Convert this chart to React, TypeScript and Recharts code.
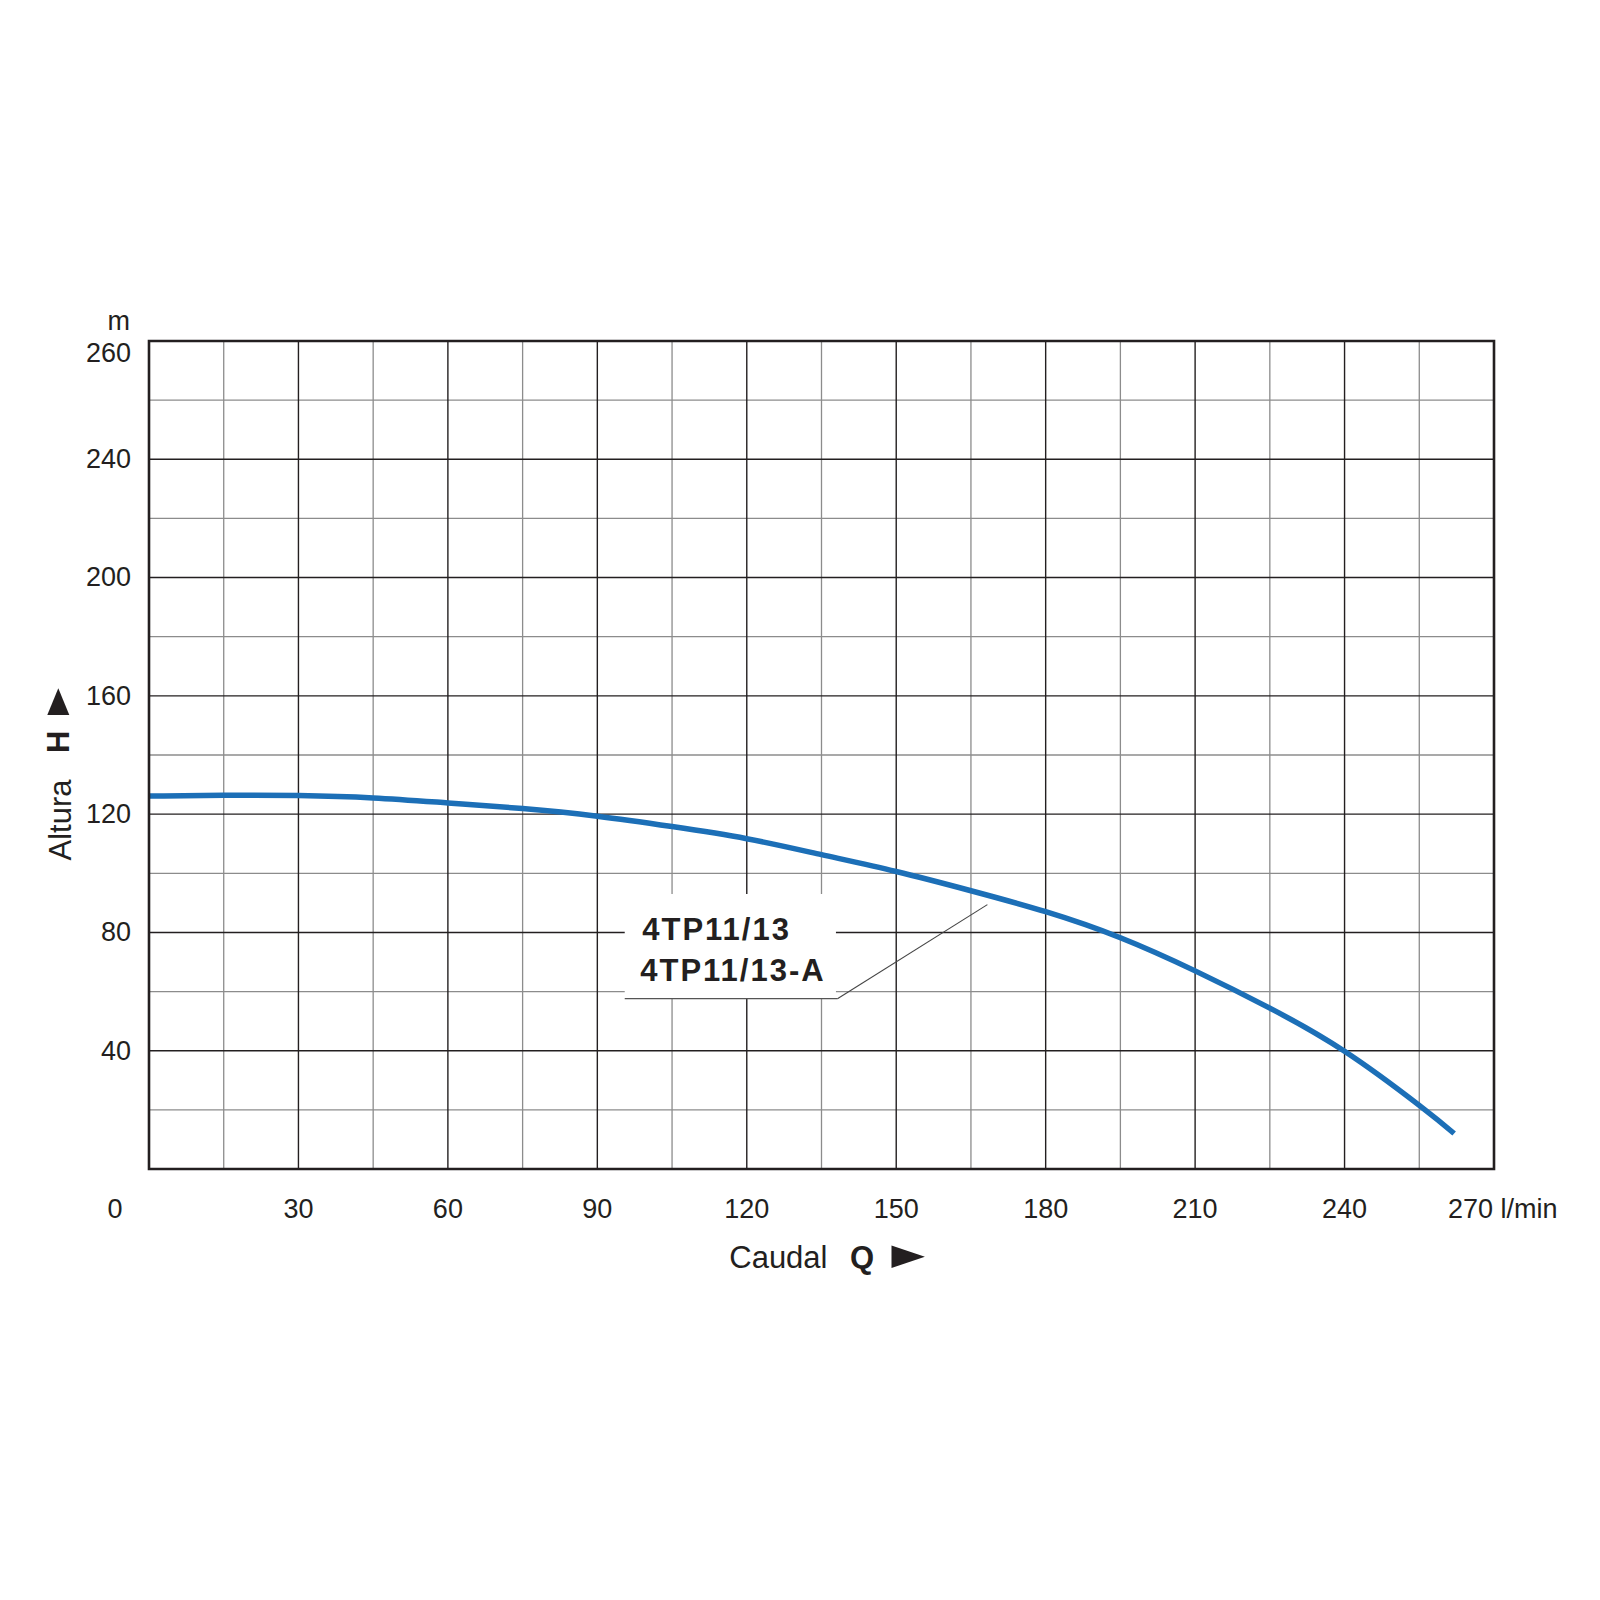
import {
    LineChart,
    Line,
    XAxis,
    YAxis,
    ReferenceLine,
    ReferenceArea,
} from "recharts";

// curve (l/min -> m)
const flow = [0, 15, 30, 45, 60, 75, 90, 105, 120, 135, 150, 165, 180, 195, 210, 225, 240, 255, 262];
const head = [126.1, 126.4, 126.3, 125.5, 123.8, 121.9, 119.3, 115.8, 111.7, 106.3, 100.6, 94.1, 87.0, 78.2, 67.0, 54.4, 39.8, 21.5, 12.0];

const xTicks = [0, 30, 60, 90, 120, 150, 180, 210, 240, 270];
const xTickLabels = ["0", "30", "60", "90", "120", "150", "180", "210", "240", "270 l/min"];
const yTicks = [40, 80, 120, 160, 200, 240, 280];
const yTickLabels = ["40", "80", "120", "160", "200", "240", "260"];

const xMajor = [30, 60, 90, 120, 150, 180, 210, 240];
const xMinor = [15, 45, 75, 105, 135, 165, 195, 225, 255];
const yMajor = [40, 80, 120, 160, 200, 240];
const yMinor = [20, 60, 100, 140, 180, 220, 260];

const curveNames = ["4TP11/13", "4TP11/13-A"];

const data = flow.map((q, i) => ({ q, h: head[i] }));

const INK = "#231f20";
const FONT = '"Liberation Sans", Arial, Helvetica, sans-serif';

const XTick = ({ x, y, payload }: any) => {
    const i = xTicks.indexOf(payload.value);
    let anchor = "middle";
    let dx = 0;
    if (i === 0) dx = -34;
    if (i === xTicks.length - 1) {
        anchor = "start";
        dx = -46;
    }
    return (
        <text x={x + dx} y={y + 49} textAnchor={anchor} fontSize={27} fill={INK} fontFamily={FONT}>
            {xTickLabels[i]}
        </text>
    );
};

const YTick = ({ x, y, payload }: any) => {
    const i = yTicks.indexOf(payload.value);
    const top = i === yTicks.length - 1;
    return (
        <text x={x - 18} y={y + (top ? 12 : 0)} dy="0.33em" textAnchor="end" fontSize={27} fill={INK} fontFamily={FONT}>
            {yTickLabels[i]}
        </text>
    );
};

const XTitle = ({ viewBox }: any) => {
    const cx = viewBox.x + viewBox.width / 2;
    const by = viewBox.y + 99;
    return (
        <g fill={INK} fontFamily={FONT}>
            <text x={cx + 6} y={by} textAnchor="end" fontSize={31}>Caudal</text>
            <text x={cx + 28.5} y={by} fontSize={31} fontWeight="bold">Q</text>
            <polygon points={`${cx + 70},${by - 22.6} ${cx + 70},${by} ${cx + 103.4},${by - 11.3}`} />
        </g>
    );
};

const YTitle = ({ viewBox }: any) => {
    const ax = viewBox.x + viewBox.width;
    const cy = viewBox.y + viewBox.height / 2;
    return (
        <g fill={INK} fontFamily={FONT}>
            <text x={ax - 19} y={viewBox.y - 11} textAnchor="end" fontSize={27}>m</text>
            <text
                x={ax - 78.5}
                y={cy + 65}
                textAnchor="middle"
                fontSize={31}
                transform={`rotate(-90 ${ax - 78.5} ${cy + 65})`}
            >
                Altura
            </text>
            <text
                x={ax - 79.5}
                y={cy - 13.3}
                textAnchor="middle"
                fontSize={31}
                fontWeight="bold"
                transform={`rotate(-90 ${ax - 79.5} ${cy - 13.3})`}
            >
                H
            </text>
            <polygon
                points={`${ax - 90.7},${cy - 66.7} ${ax - 101.7},${cy - 40} ${ax - 79.7},${cy - 40}`}
            />
        </g>
    );
};

const BoxLabel = ({ viewBox }: any) => (
    <g fill={INK} fontFamily={FONT} fontSize={31} fontWeight="bold" letterSpacing={2}>
        <text x={viewBox.x + 17.5} y={viewBox.y + 46}>{curveNames[0]}</text>
        <text x={viewBox.x + 15.5} y={viewBox.y + 87}>{curveNames[1]}</text>
    </g>
);

export default function App() {
    return (
        <div style={{ position: "absolute", left: 0, top: 0, width: 1600, height: 1600, background: "#fff" }}>
            <LineChart
                width={1600}
                height={1600}
                data={data}
                margin={{ top: 341, right: 106, bottom: 371, left: 89 }}
            >
                <XAxis
                    dataKey="q"
                    type="number"
                    domain={[0, 270]}
                    ticks={xTicks}
                    interval={0}
                    axisLine={false}
                    tickLine={false}
                    tickSize={0}
                    tickMargin={0}
                    height={60}
                    tick={<XTick />}
                    label={(p: any) => <XTitle {...p} />}
                />
                <YAxis
                    type="number"
                    domain={[0, 280]}
                    ticks={yTicks}
                    interval={0}
                    axisLine={false}
                    tickLine={false}
                    tickSize={0}
                    tickMargin={0}
                    width={60}
                    tick={<YTick />}
                    label={(p: any) => <YTitle {...p} />}
                />

                {xMinor.map((v) => (
                    <ReferenceLine key={`xm${v}`} x={v} stroke="#8c8c8c" strokeWidth={1.3} zIndex={-60} />
                ))}
                {yMinor.map((v) => (
                    <ReferenceLine key={`ym${v}`} y={v} stroke="#8c8c8c" strokeWidth={1.3} zIndex={-60} />
                ))}
                {xMajor.map((v) => (
                    <ReferenceLine key={`xM${v}`} x={v} stroke={INK} strokeWidth={1.4} zIndex={-50} />
                ))}
                {yMajor.map((v) => (
                    <ReferenceLine key={`yM${v}`} y={v} stroke={INK} strokeWidth={1.4} zIndex={-50} />
                ))}

                {/* white label box over the grid */}
                <ReferenceArea
                    x1={95.5}
                    x2={137.9}
                    y1={57.6}
                    y2={93}
                    fill="#fff"
                    fillOpacity={1}
                    stroke="none"
                    zIndex={-10}
                    label={(p: any) => <BoxLabel {...p} />}
                />
                <ReferenceLine
                    segment={[{ x: 95.5, y: 57.6 }, { x: 138.2, y: 57.6 }]}
                    stroke="#555"
                    strokeWidth={1.1}
                    zIndex={-5}
                />
                <ReferenceLine
                    segment={[{ x: 138.2, y: 57.6 }, { x: 168.3, y: 89.4 }]}
                    stroke="#444"
                    strokeWidth={1.1}
                    zIndex={-5}
                />

                <Line
                    dataKey="h"
                    type="natural"
                    stroke="#1c6fb7"
                    strokeWidth={5.5}
                    dot={false}
                    activeDot={false}
                    isAnimationActive={false}
                />

                {/* frame */}
                <ReferenceArea
                    x1={0}
                    x2={270}
                    y1={0}
                    y2={280}
                    fill="none"
                    stroke={INK}
                    strokeWidth={2.6}
                    zIndex={900}
                />
            </LineChart>
        </div>
    );
}
